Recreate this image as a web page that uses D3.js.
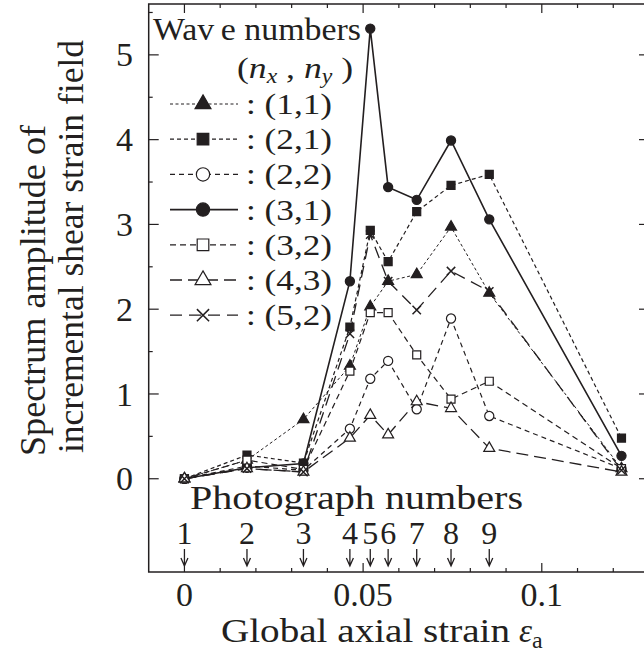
<!DOCTYPE html>
<html>
<head>
<meta charset="utf-8">
<script src="https://cdn.jsdelivr.net/npm/d3@7"></script>
<style>
  body { margin: 0; background: #fff; }
  svg { display: block; }
  text { font-family: "Liberation Serif", Tinos, "Nimbus Roman", "FreeSerif", "Noto Serif", "DejaVu Serif Condensed", "DejaVu Serif", serif; fill: #231f20; }
</style>
</head>
<body>
<div id="chart"></div>
<script>
// strain of each photograph (1..9) plus the last measured state
const strain = [0, 0.0175, 0.0333, 0.0463, 0.052, 0.057, 0.065, 0.0746, 0.0853, 0.1223];
const photoLabels = ["1", "2", "3", "4", "5", "6", "7", "8", "9"];

// spectrum amplitude per wave number (n_x, n_y)
const amp11 = [0, 0.22, 0.70, 1.33, 2.03, 2.33, 2.41, 2.97, 2.19, 0.12];
const amp21 = [0, 0.28, 0.185, 1.79, 2.93, 2.56, 3.15, 3.46, 3.59, 0.48];
const amp22 = [0, 0.15, 0.10, 0.59, 1.18, 1.39, 0.82, 1.89, 0.74, 0.12];
const amp31 = [0, 0.13, 0.18, 2.33, 5.31, 3.44, 3.29, 3.99, 3.06, 0.27];
const amp32 = [0, 0.22, 0.11, 1.27, 1.96, 1.96, 1.46, 0.94, 1.15, 0.12];
const amp43 = [0, 0.12, 0.08, 0.48, 0.75, 0.52, 0.91, 0.83, 0.36, 0.08];
const amp52 = [0, 0.12, 0.08, 1.71, 2.88, 2.33, 1.99, 2.45, 2.21, 0.10];

const waveLabels = ["(1,1)", "(2,1)", "(2,2)", "(3,1)", "(3,2)", "(4,3)", "(5,2)"];
const yTickValues = [0, 1, 2, 3, 4, 5];
const xTickValues = [0, 0.05, 0.1];
const xTickLabels = ["0", "0.05", "0.1"];

const ink = "#231f20";
const W = 644, H = 664;

const series = [
    { label: waveLabels[0], values: amp11, shape: "tri", fill: true, dash: "3,2.5", sw: 1 },
    { label: waveLabels[1], values: amp21, shape: "sq", fill: true, dash: "4,3", sw: 1.2 },
    { label: waveLabels[2], values: amp22, shape: "circ", fill: false, dash: "5,4", sw: 1.2 },
    { label: waveLabels[3], values: amp31, shape: "circ", fill: true, dash: null, sw: 1.6 },
    { label: waveLabels[4], values: amp32, shape: "sq", fill: false, dash: "6,4", sw: 1.2 },
    { label: waveLabels[5], values: amp43, shape: "tri", fill: false, dash: "12,6", sw: 1.3 },
    { label: waveLabels[6], values: amp52, shape: "x", fill: false, dash: "12,7", sw: 1.3 }
];

let svg = d3.select("#chart").append("svg")
    .attr("width", W)
    .attr("height", H);

let x = d3.scaleLinear().domain([-0.01, 0.13]).range([148.7, 649]);
let y = d3.scaleLinear().domain([-1.1, 5.6]).range([572, 4]);

function markerPath(shape, big) {
    let k = big ? 1.45 : 1;
    if (shape === "tri") return d3.symbol(d3.symbolTriangle, 52 * k * k)();
    if (shape === "sq") return d3.symbol(d3.symbolSquare, 64 * k * k)();
    if (shape === "circ") return d3.symbol(d3.symbolCircle, 66 * k * k)();
    let r = 4.2 * k;
    return `M${-r},${-r}L${r},${r}M${-r},${r}L${r},${-r}`;
}

function styleMarker(sel, s) {
    sel.attr("fill", s.shape === "x" ? "none" : (s.fill ? ink : "#fff"))
        .attr("stroke", ink)
        .attr("stroke-width", s.shape === "x" ? 1.5 : 1.2);
}

// frame
svg.append("rect")
    .attr("x", x.range()[0]).attr("y", 4)
    .attr("width", x.range()[1] - x.range()[0]).attr("height", 568)
    .attr("fill", "none").attr("stroke", ink).attr("stroke-width", 1.5);

// ticks on all four sides
let ticks = svg.append("g").attr("stroke", ink).attr("stroke-width", 1.2);
d3.range(0, 13).forEach(i => {
    let v = i / 100;
    let len = (i % 5 === 0) ? 9 : 4;
    ticks.append("line").attr("x1", x(v)).attr("x2", x(v)).attr("y1", 572).attr("y2", 572 - len);
    ticks.append("line").attr("x1", x(v)).attr("x2", x(v)).attr("y1", 4).attr("y2", 4 + len);
});
d3.range(0, 12).forEach(i => {
    let v = i / 2;
    let len = (i % 2 === 0) ? 10 : 4;
    ticks.append("line").attr("x1", x.range()[0]).attr("x2", x.range()[0] + len).attr("y1", y(v)).attr("y2", y(v));
    ticks.append("line").attr("x1", x.range()[1]).attr("x2", x.range()[1] - len).attr("y1", y(v)).attr("y2", y(v));
});

// tick labels
svg.selectAll(".ylab").data(yTickValues).enter().append("text")
    .attr("class", "ylab")
    .attr("x", 133).attr("y", d => y(d))
    .attr("dy", "0.34em")
    .attr("text-anchor", "end")
    .style("font-size", "34px")
    .text(d => d);

svg.selectAll(".xlab").data(xTickValues).enter().append("text")
    .attr("class", "xlab")
    .attr("x", d => x(d)).attr("y", 606)
    .attr("text-anchor", "middle")
    .style("font-size", "34px")
    .text((d, i) => xTickLabels[i]);

// axis titles
svg.append("text")
    .attr("x", 221).attr("y", 642)
    .style("font-size", "33px")
    .attr("textLength", 289).attr("lengthAdjust", "spacingAndGlyphs")
    .text("Global axial strain");
let eps = svg.append("text").attr("x", 519).attr("y", 642).style("font-size", "33px");
eps.append("tspan").style("font-style", "italic").text("ε");
eps.append("tspan").attr("dy", 6).style("font-size", "24px").text("a");

let yTitle = svg.append("g").attr("transform", "rotate(-90)");
yTitle.append("text")
    .attr("x", -456).attr("y", 45)
    .style("font-size", "35px")
    .attr("textLength", 331).attr("lengthAdjust", "spacingAndGlyphs")
    .text("Spectrum amplitude of");
yTitle.append("text")
    .attr("x", -453).attr("y", 83)
    .style("font-size", "35px")
    .attr("textLength", 413).attr("lengthAdjust", "spacingAndGlyphs")
    .text("incremental shear strain field");

// photograph numbers and arrows
svg.append("text")
    .attr("x", 190).attr("y", 509)
    .style("font-size", "33px")
    .attr("textLength", 333).attr("lengthAdjust", "spacingAndGlyphs")
    .text("Photograph numbers");

let photo = svg.append("g");
photo.selectAll("text").data(photoLabels).enter().append("text")
    .attr("x", (d, i) => x(strain[i])).attr("y", 544)
    .attr("text-anchor", "middle")
    .style("font-size", "32px")
    .text(d => d);
photo.selectAll("path").data(photoLabels).enter().append("path")
    .attr("d", (d, i) => {
        let px = x(strain[i]);
        return `M${px},549L${px},566M${px - 3.5},558L${px},566L${px + 3.5},558`;
    })
    .attr("fill", "none").attr("stroke", ink).attr("stroke-width", 1.3);

// data lines and markers
let line = d3.line().x((d, i) => x(strain[i])).y(d => y(d));

series.forEach(s => {
    svg.append("path")
        .datum(s.values)
        .attr("d", line)
        .attr("fill", "none")
        .attr("stroke", ink)
        .attr("stroke-width", s.sw)
        .attr("stroke-dasharray", s.dash);
});
series.forEach(s => {
    svg.append("g").selectAll("path").data(s.values).enter().append("path")
        .attr("transform", (d, i) => `translate(${x(strain[i])},${y(d)})`)
        .attr("d", markerPath(s.shape, false))
        .call(styleMarker, s);
});

// legend
let legend = svg.append("g");
let head = legend.append("text").attr("x", 153).attr("y", 40)
    .style("font-size", "31px")
    .attr("textLength", 208).attr("lengthAdjust", "spacingAndGlyphs");
head.append("tspan").text("Wav");
head.append("tspan").attr("dx", 6).text("e numbers");
let sub = legend.append("text").attr("x", 237).attr("y", 78)
    .style("font-size", "30px")
    .attr("textLength", 116).attr("lengthAdjust", "spacingAndGlyphs");
sub.append("tspan").text("(");
sub.append("tspan").style("font-style", "italic").text("n");
sub.append("tspan").attr("dy", 5).style("font-size", "20px").style("font-style", "italic").text("x");
sub.append("tspan").attr("dy", -5).text(" , ");
sub.append("tspan").style("font-style", "italic").text("n");
sub.append("tspan").attr("dy", 5).style("font-size", "20px").style("font-style", "italic").text("y");
sub.append("tspan").attr("dy", -5).text(" )");

series.forEach((s, i) => {
    let cy = 104 + i * 35.2;
    legend.append("line")
        .attr("x1", 170).attr("x2", 238).attr("y1", cy).attr("y2", cy)
        .attr("stroke", ink).attr("stroke-width", s.sw)
        .attr("stroke-dasharray", s.dash);
    legend.append("path")
        .attr("transform", `translate(203,${cy})`)
        .attr("d", markerPath(s.shape, true))
        .call(styleMarker, s);
    legend.append("text")
        .attr("x", 246).attr("y", cy + 10)
        .style("font-size", "30px")
        .attr("textLength", 86).attr("lengthAdjust", "spacingAndGlyphs")
        .text(": " + s.label);
});
</script>
</body>
</html>
